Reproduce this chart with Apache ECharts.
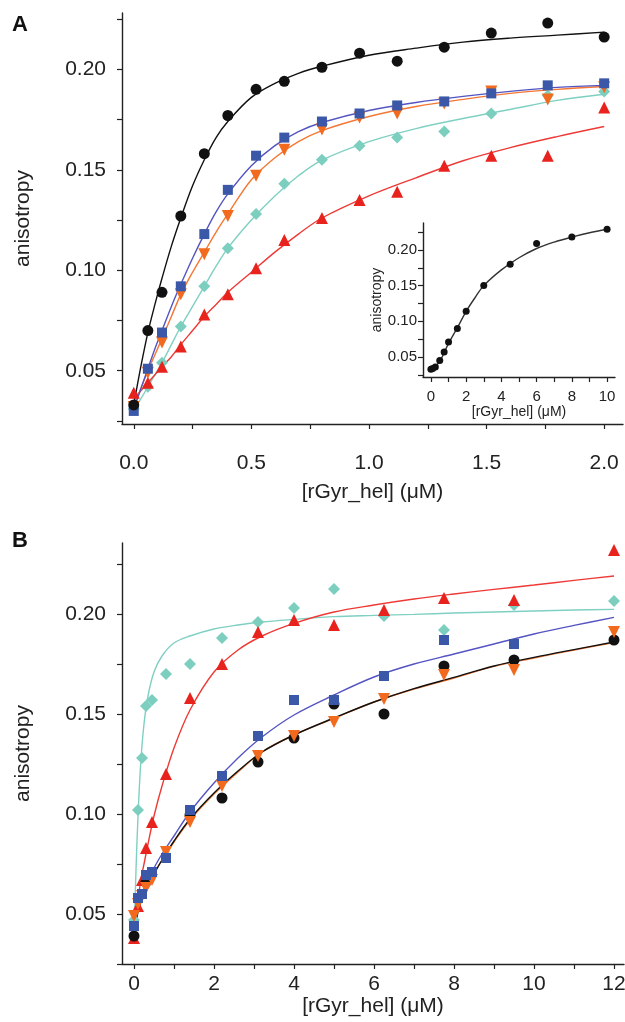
<!DOCTYPE html>
<html>
<head>
<meta charset="utf-8">
<script src="https://cdn.jsdelivr.net/npm/echarts@6/dist/echarts.min.js"></script>
<style>
html,body{margin:0;padding:0;background:#fff;}
#chart{width:625px;height:1022px;}
</style>
</head>
<body>
<div id="chart"></div>
<script>
// ---------- Panel A data ----------
const aX = [0, 0.06, 0.12, 0.2, 0.3, 0.4, 0.52, 0.64, 0.8, 0.96, 1.12, 1.32, 1.52, 1.76, 2.0];
const aBlack  = [0.033, 0.070, 0.089, 0.127, 0.158, 0.177, 0.190, 0.194, 0.201, 0.208, 0.204, 0.211, 0.218, 0.223, 0.216];
const aBlue   = [0.030, 0.051, 0.069, 0.092, 0.118, 0.140, 0.157, 0.166, 0.174, 0.178, 0.182, 0.184, 0.188, 0.192, 0.193];
const aOrange = [0.032, 0.049, 0.064, 0.088, 0.108, 0.127, 0.147, 0.160, 0.170, 0.176, 0.178, 0.183, 0.189, 0.185, 0.191];
const aTeal   = [0.031, 0.042, 0.054, 0.072, 0.092, 0.111, 0.128, 0.143, 0.155, 0.162, 0.166, 0.169, 0.178, 0.187, 0.189];
const aRed    = [0.039, 0.044, 0.052, 0.062, 0.078, 0.088, 0.101, 0.115, 0.126, 0.135, 0.139, 0.152, 0.157, 0.157, 0.181];

// fit curves of panel A
const aFitX = [0, 0.03, 0.06, 0.09, 0.12, 0.16, 0.2, 0.25, 0.3, 0.35, 0.4, 0.5, 0.6, 0.7, 0.8, 1.0, 1.2, 1.4, 1.6, 1.8, 2.0];
const aFitBlack  = [0.033, 0.052, 0.069, 0.083, 0.096, 0.112, 0.126, 0.142, 0.155, 0.166, 0.174, 0.186, 0.193, 0.198, 0.2015, 0.207, 0.2105, 0.2135, 0.2155, 0.217, 0.2185];
const aFitBlue   = [0.031, 0.041, 0.051, 0.061, 0.070, 0.082, 0.093, 0.106, 0.118, 0.129, 0.138, 0.152, 0.162, 0.169, 0.1735, 0.1795, 0.1835, 0.1865, 0.189, 0.191, 0.192];
const aFitOrange = [0.032, 0.041, 0.050, 0.058, 0.066, 0.077, 0.088, 0.099, 0.109, 0.119, 0.128, 0.145, 0.156, 0.164, 0.1695, 0.1765, 0.1815, 0.185, 0.188, 0.190, 0.1914];
const aFitTeal   = [0.031, 0.036, 0.042, 0.048, 0.054, 0.063, 0.072, 0.082, 0.092, 0.102, 0.111, 0.125, 0.137, 0.147, 0.1548, 0.164, 0.1705, 0.1755, 0.180, 0.1845, 0.1876];
const aFitRed    = [0.036, 0.040, 0.044, 0.048, 0.052, 0.057, 0.063, 0.070, 0.077, 0.083, 0.089, 0.099, 0.109, 0.118, 0.126, 0.137, 0.146, 0.1545, 0.161, 0.1665, 0.1715];

// ---------- Inset data ----------
const inX = [0, 0.1, 0.25, 0.5, 0.75, 1.0, 1.5, 2, 3, 4.5, 6, 8, 10];
const inY = [0.033, 0.034, 0.036, 0.045, 0.057, 0.071, 0.090, 0.114, 0.150, 0.180, 0.209, 0.218, 0.229];
const inFitX = [0, 0.5, 1, 1.5, 2, 2.5, 3, 4, 5, 6, 7, 8, 9, 10];
const inFitY = [0.032, 0.044, 0.069, 0.091, 0.114, 0.133, 0.150, 0.172, 0.189, 0.202, 0.211, 0.218, 0.224, 0.229];

// ---------- Panel B data ----------
const bX = [0, 0.1, 0.2, 0.3, 0.45, 0.8, 1.4, 2.2, 3.1, 4.0, 5.0, 6.25, 7.75, 9.5, 12];
const bTeal   = [0.047, 0.102, 0.128, 0.154, 0.157, 0.170, 0.175, 0.188, 0.196, 0.203, 0.2125, 0.199, 0.192, 0.2045, 0.2065];
const bRed    = [0.038, 0.054, 0.067, 0.083, 0.096, 0.120, 0.158, 0.175, 0.191, 0.197, 0.1945, 0.202, 0.208, 0.207, 0.232];
const bBlue   = [0.044, 0.058, 0.060, 0.0695, 0.071, 0.078, 0.102, 0.119, 0.139, 0.157, 0.157, 0.169, 0.187, 0.185, null];
const bBlack  = [0.039, null, null, 0.066, null, null, 0.0995, 0.108, 0.126, 0.138, 0.155, 0.150, 0.174, 0.177, 0.187];
const bOrange = [0.049, 0.055, 0.059, 0.063, 0.067, 0.081, 0.096, 0.114, 0.129, 0.139, 0.146, 0.1575, 0.1695, 0.172, 0.191];

const bFitX = [0, 0.05, 0.1, 0.17, 0.25, 0.35, 0.5, 0.7, 1.0, 1.4, 2.0, 2.6, 3.2, 4, 5, 6, 7, 8, 9, 10, 11, 12];
const bFitTeal   = [0.040, 0.072, 0.099, 0.126, 0.145, 0.159, 0.171, 0.179, 0.1855, 0.189, 0.1925, 0.1945, 0.196, 0.1973, 0.1987, 0.1993, 0.1998, 0.2005, 0.201, 0.2015, 0.202, 0.2023];
const bFitRed    = [0.042, 0.050, 0.057, 0.067, 0.075, 0.085, 0.099, 0.114, 0.133, 0.152, 0.171, 0.182, 0.189, 0.1953, 0.201, 0.2045, 0.2075, 0.210, 0.2123, 0.2145, 0.2168, 0.219];
const bFitBlue   = [0.045, 0.050, 0.055, 0.059, 0.063, 0.067, 0.073, 0.080, 0.089, 0.101, 0.1155, 0.128, 0.1385, 0.1495, 0.1595, 0.1685, 0.175, 0.180, 0.185, 0.190, 0.1943, 0.1983];
const bFitOrange = [0.048, 0.051, 0.054, 0.057, 0.0605, 0.064, 0.070, 0.077, 0.086, 0.097, 0.110, 0.121, 0.131, 0.1395, 0.1478, 0.156, 0.1625, 0.168, 0.1738, 0.178, 0.182, 0.1857];
const bFitBlack  = [0.040, 0.046, 0.051, 0.056, 0.060, 0.064, 0.070, 0.077, 0.0865, 0.0975, 0.1105, 0.1215, 0.131, 0.1395, 0.148, 0.156, 0.1627, 0.1683, 0.174, 0.1783, 0.1822, 0.186];

// ---------- tick values ----------
const aXLabels = [0, 0.5, 1.0, 1.5, 2.0];
const aXTicks = [0, 0.25, 0.5, 0.75, 1.0, 1.25, 1.5, 1.75, 2.0];
const yLabels = [0.05, 0.10, 0.15, 0.20];
const yTicks = [0.025, 0.05, 0.075, 0.10, 0.125, 0.15, 0.175, 0.20, 0.225];
const bXLabels = [0, 2, 4, 6, 8, 10, 12];
const bXTicks = [0, 1, 2, 3, 4, 5, 6, 7, 8, 9, 10, 11, 12];
const inXLabels = [0, 2, 4, 6, 8, 10];
const inXTicks = [0, 1, 2, 3, 4, 5, 6, 7, 8, 9, 10];

const C = {
  black: '#111111',
  blueM: '#3b58a8', blueL: '#5454c2',
  orangeM: '#f26a1e', orangeL: '#f47733',
  tealM: '#7ccfbf', tealL: '#7fd0c3',
  redM: '#e8221c', redL: '#ee3a36'
};
const FONT = 'Liberation Sans, Arial, Helvetica, sans-serif';

function pairs(xs, ys) {
  const out = [];
  for (let i = 0; i < xs.length; i++) if (ys[i] !== null && ys[i] !== undefined) out.push([xs[i], ys[i]]);
  return out;
}

function xAxisDef(gi, min, max, labels, ticks, fmt, fs, margin, name, nameGap, nameFs) {
  return {
    type: 'value', gridIndex: gi, min: min, max: max,
    splitLine: { show: false },
    axisLine: { show: true, onZero: false, lineStyle: { color: '#222', width: 1.4 } },
    axisTick: { show: true, inside: false, length: 5, customValues: ticks, lineStyle: { color: '#222', width: 1.2 } },
    axisLabel: { show: true, customValues: labels, formatter: fmt, fontSize: fs, color: '#222', fontFamily: FONT, margin: margin },
    name: name, nameLocation: 'middle', nameGap: nameGap,
    nameTextStyle: { fontSize: nameFs, color: '#222', fontFamily: FONT }
  };
}
function yAxisDef(gi, min, max, fs, margin, name, nameGap, nameFs) {
  return {
    type: 'value', gridIndex: gi, min: min, max: max,
    splitLine: { show: false },
    axisLine: { show: true, onZero: false, lineStyle: { color: '#222', width: 1.4 } },
    axisTick: { show: true, inside: false, length: 5, customValues: yTicks, lineStyle: { color: '#222', width: 1.2 } },
    axisLabel: { show: true, customValues: yLabels, formatter: v => Number(v).toFixed(2), fontSize: fs, color: '#222', fontFamily: FONT, margin: margin },
    name: name, nameLocation: 'middle', nameGap: nameGap,
    nameTextStyle: { fontSize: nameFs, color: '#222', fontFamily: FONT }
  };
}

function fitLine(xi, yi, xs, ys, color) {
  return {
    type: 'line', xAxisIndex: xi, yAxisIndex: yi, data: pairs(xs, ys),
    showSymbol: false, smooth: 0.35, z: 2, silent: true,
    lineStyle: { color: color, width: 1.4 }
  };
}
function dots(xi, yi, xs, ys, color, symbol, size, rotate) {
  return {
    type: 'scatter', xAxisIndex: xi, yAxisIndex: yi, data: pairs(xs, ys),
    symbol: symbol, symbolSize: size, symbolRotate: rotate || 0, z: 3,
    itemStyle: { color: color, opacity: 1 }
  };
}

const chart = echarts.init(document.getElementById('chart'), null, { renderer: 'canvas' });
const option = {
  backgroundColor: '#ffffff',
  animation: false,
  textStyle: { fontFamily: FONT },
  grid: [
    { left: 122, top: 13, width: 501, height: 411, containLabel: false, outerBoundsMode: 'none' },
    { left: 423, top: 223, width: 192, height: 154, containLabel: false, outerBoundsMode: 'none' },
    { left: 122, top: 543, width: 502, height: 421, containLabel: false, outerBoundsMode: 'none' }
  ],
  xAxis: [
    xAxisDef(0, -0.05, 2.08, aXLabels, aXTicks, v => Number(v).toFixed(1), 21, 29, '[rGyr_hel] (\u03bcM)', 58, 21),
    xAxisDef(1, -0.45, 10.45, inXLabels, inXTicks, v => String(v), 15, 12, '[rGyr_hel] (\u03bcM)', 27, 14),
    xAxisDef(2, -0.3, 12.25, bXLabels, bXTicks, v => String(v), 21, 10, '[rGyr_hel] (\u03bcM)', 30, 21)
  ],
  yAxis: [
    yAxisDef(0, 0.0235, 0.228, 21, 16, 'anisotropy', 88, 21),
    yAxisDef(1, 0.022, 0.2377, 15, 6, 'anisotropy', 37, 14),
    yAxisDef(2, 0.025, 0.2355, 21, 16, 'anisotropy', 88, 21)
  ],
  graphic: [
    { type: 'text', left: 12, top: 14, style: { text: 'A', font: 'bold 22px ' + FONT, fill: '#111' } },
    { type: 'text', left: 12, top: 530, style: { text: 'B', font: 'bold 22px ' + FONT, fill: '#111' } }
  ],
  series: [
    // Panel A fits
    fitLine(0, 0, aFitX, aFitTeal, C.tealL),
    fitLine(0, 0, aFitX, aFitRed, C.redL),
    fitLine(0, 0, aFitX, aFitOrange, C.orangeL),
    fitLine(0, 0, aFitX, aFitBlue, C.blueL),
    fitLine(0, 0, aFitX, aFitBlack, C.black),
    // Panel A points
    dots(0, 0, aX, aTeal, C.tealM, 'diamond', 12),
    dots(0, 0, aX, aRed, C.redM, 'triangle', 12),
    dots(0, 0, aX, aOrange, C.orangeM, 'triangle', 12, 180),
    dots(0, 0, aX, aBlue, C.blueM, 'rect', 10),
    dots(0, 0, aX, aBlack, C.black, 'circle', 11),
    // Inset
    fitLine(1, 1, inFitX, inFitY, '#333'),
    dots(1, 1, inX, inY, C.black, 'circle', 7),
    // Panel B fits
    fitLine(2, 2, bFitX, bFitTeal, C.tealL),
    fitLine(2, 2, bFitX, bFitRed, C.redL),
    fitLine(2, 2, bFitX, bFitBlue, C.blueL),
    fitLine(2, 2, bFitX, bFitOrange, C.orangeL),
    fitLine(2, 2, bFitX, bFitBlack, C.black),
    // Panel B points
    dots(2, 2, bX, bTeal, C.tealM, 'diamond', 12),
    dots(2, 2, bX, bRed, C.redM, 'triangle', 12),
    dots(2, 2, bX, bBlack, C.black, 'circle', 11),
    dots(2, 2, bX, bOrange, C.orangeM, 'triangle', 12, 180),
    dots(2, 2, bX, bBlue, C.blueM, 'rect', 10)
  ]
};
chart.setOption(option);
</script>
</body>
</html>
